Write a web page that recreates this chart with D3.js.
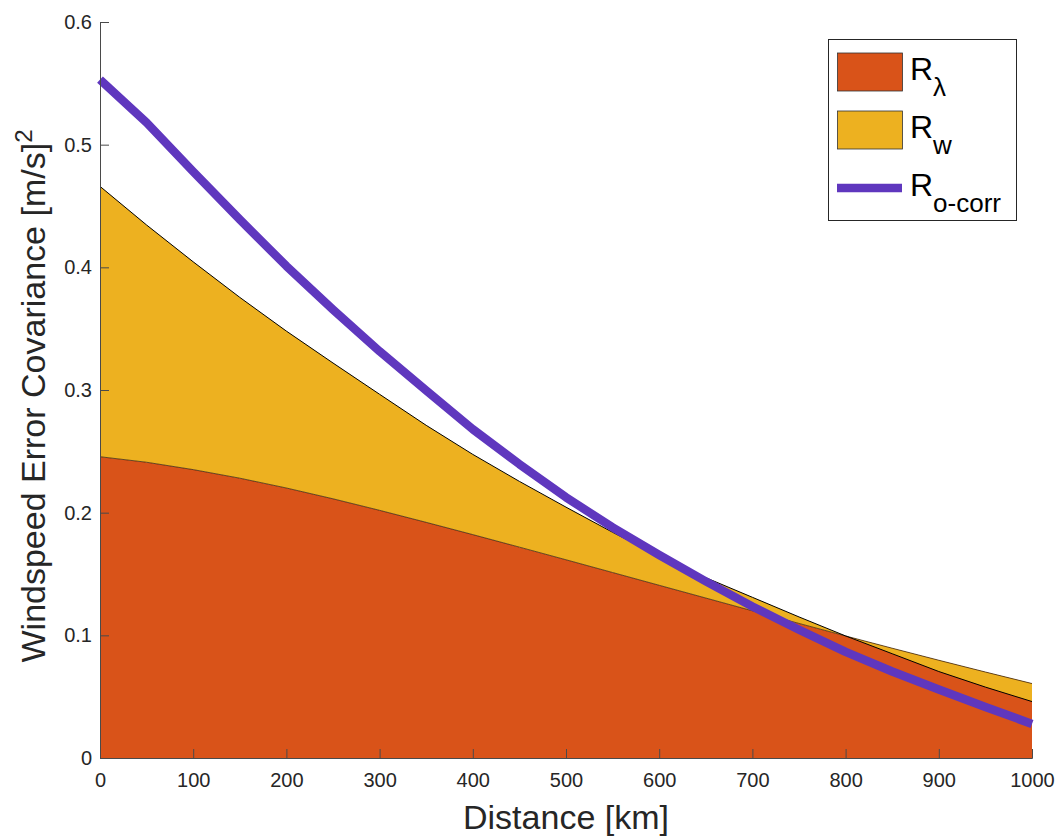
<!DOCTYPE html>
<html>
<head>
<meta charset="utf-8">
<script src="https://cdn.jsdelivr.net/npm/d3@7/dist/d3.min.js"></script>
<style>
  html, body { margin: 0; padding: 0; background: #fff; }
  svg { display: block; font-family: "Liberation Sans", Arial, Helvetica, sans-serif; }
</style>
</head>
<body>
<svg id="chart" width="1059" height="836"></svg>
<script>
// Distance samples [km]
const distance = [0, 50, 100, 150, 200, 250, 300, 350, 400, 450, 500,
                  550, 600, 650, 700, 750, 800, 850, 900, 950, 1000];

// Representativeness component R_lambda [(m/s)^2]
const rLambda = [0.2456, 0.2411, 0.2351, 0.2281, 0.2201, 0.2113, 0.2019, 0.1921, 0.1821, 0.1719, 0.1616,
                 0.1512, 0.1408, 0.1304, 0.1200, 0.1097, 0.0995, 0.0895, 0.0797, 0.0701, 0.0607];

// Wind component R_w, stacked on R_lambda [(m/s)^2]
const rW = [0.2204, 0.1934, 0.1694, 0.1474, 0.1279, 0.1107, 0.0946, 0.0791, 0.0654, 0.0536, 0.0429,
            0.0328, 0.0237, 0.0166, 0.0110, 0.0053, 0.0000, -0.0045, -0.0092, -0.0123, -0.0147];

// Observed error covariance R_o-corr [(m/s)^2]
const rOcorr = [0.553, 0.518, 0.478, 0.439, 0.401, 0.3655, 0.3315, 0.2995, 0.268, 0.2395, 0.2125,
                0.188, 0.1655, 0.144, 0.1235, 0.1045, 0.0865, 0.0705, 0.0558, 0.0415, 0.0278];

const xTicks = [0, 100, 200, 300, 400, 500, 600, 700, 800, 900, 1000];
const yTicks = [0, 0.1, 0.2, 0.3, 0.4, 0.5, 0.6];

const colors = { lambda: "#D95319", w: "#EDB120", ocorr: "#5F37BE", axis: "#262626" };

const rows = distance.map((d, i) => ({
  d, lam: rLambda[i], top: rLambda[i] + rW[i], oc: rOcorr[i]
}));

const svg = d3.select("#chart");
const x = d3.scaleLinear().domain([0, 1000]).range([100, 1032]);
const y = d3.scaleLinear().domain([0, 0.6]).range([758, 22]);

// Stacked areas
svg.append("path")
  .datum(rows)
  .attr("fill", colors.lambda)
  .attr("d", d3.area().x(r => x(r.d)).y0(y(0)).y1(r => y(r.lam)));

svg.append("path")
  .datum(rows)
  .attr("fill", colors.w)
  .attr("d", d3.area().x(r => x(r.d)).y0(r => y(r.lam)).y1(r => y(r.top)));

// Patch edges
svg.append("path")
  .datum(rows)
  .attr("fill", "none")
  .attr("stroke", "#2a1a0a")
  .attr("stroke-width", 0.7)
  .attr("d", d3.line().x(r => x(r.d)).y(r => y(r.lam)));

svg.append("path")
  .datum(rows)
  .attr("fill", "none")
  .attr("stroke", "#000")
  .attr("stroke-width", 1)
  .attr("d", d3.line().x(r => x(r.d)).y(r => y(r.top)));

// R_o-corr curve
svg.append("path")
  .datum(rows)
  .attr("fill", "none")
  .attr("stroke", colors.ocorr)
  .attr("stroke-width", 8.5)
  .attr("stroke-linejoin", "round")
  .attr("d", d3.line().x(r => x(r.d)).y(r => y(r.oc)));

// Axes
const yAxis = svg.append("g")
  .attr("transform", `translate(${x(0)},0)`)
  .call(d3.axisLeft(y).tickValues(yTicks).tickSize(-9).tickPadding(8)
        .tickFormat(d => d3.format(".1~f")(d)));

const xAxis = svg.append("g")
  .attr("transform", `translate(0,${y(0)})`)
  .call(d3.axisBottom(x).tickValues(xTicks).tickSize(-9).tickPadding(15)
        .tickFormat(d3.format("d")));

[yAxis, xAxis].forEach(g => {
  g.select(".domain").attr("stroke", "#4a4a4a").attr("stroke-width", 1);
  g.selectAll(".tick line").attr("stroke", "#4a4a4a").attr("stroke-width", 1);
  g.selectAll(".tick text").attr("fill", colors.axis).style("font-size", "20px")
    .style("font-family", '"Liberation Sans", Arial, Helvetica, sans-serif');
});

// Axis titles
svg.append("text")
  .attr("x", (x(0) + x(1000)) / 2)
  .attr("y", 829)
  .attr("text-anchor", "middle")
  .attr("fill", colors.axis)
  .style("font-size", "34px")
  .text("Distance [km]");

const yTitle = svg.append("text")
  .attr("transform", "translate(45,396) rotate(-90)")
  .attr("text-anchor", "middle")
  .attr("fill", colors.axis)
  .style("font-size", "34px");
yTitle.append("tspan").text("Windspeed Error Covariance [m/s]");
yTitle.append("tspan").attr("dy", -13).style("font-size", "24px").text("2");

// Legend
const legend = svg.append("g");
legend.append("rect")
  .attr("x", 828.5).attr("y", 39.5).attr("width", 188).attr("height", 181)
  .attr("fill", "#fff").attr("stroke", "#262626").attr("stroke-width", 1);

const legendItems = [
  { kind: "box", color: colors.lambda, base: "R", sub: "λ", cy: 72 },
  { kind: "box", color: colors.w, base: "R", sub: "w", cy: 130 },
  { kind: "line", color: colors.ocorr, base: "R", sub: "o-corr", cy: 188 }
];

legendItems.forEach(it => {
  if (it.kind === "box") {
    legend.append("rect")
      .attr("x", 837.5).attr("y", it.cy - 19).attr("width", 65).attr("height", 38)
      .attr("fill", it.color).attr("stroke", "#333").attr("stroke-width", 0.8);
  } else {
    legend.append("line")
      .attr("x1", 837).attr("x2", 902).attr("y1", it.cy).attr("y2", it.cy)
      .attr("stroke", it.color).attr("stroke-width", 8.5);
  }
  const t = legend.append("text")
    .attr("x", 910).attr("y", it.cy + 8)
    .attr("fill", "#000")
    .style("font-size", "32px");
  t.append("tspan").text(it.base);
  t.append("tspan").attr("dy", 16).style("font-size", "26px").text(it.sub);
});
</script>
</body>
</html>
